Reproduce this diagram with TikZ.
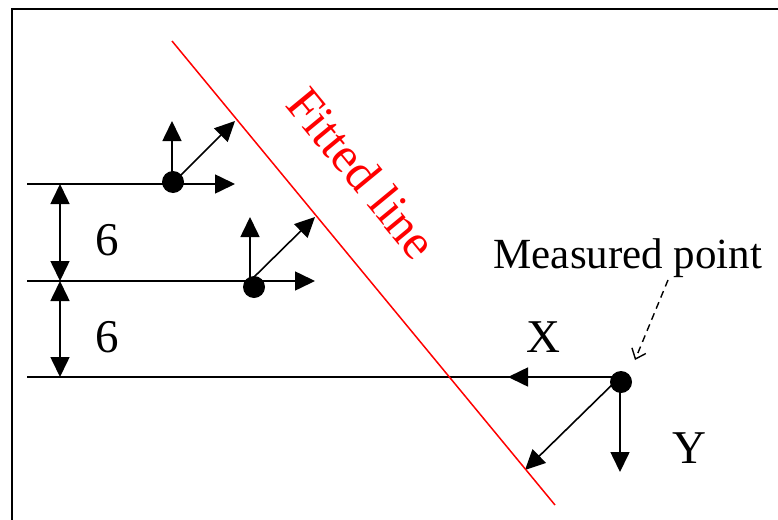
\documentclass[tikz,border=0pt]{standalone}
\usepackage{fontspec}
\setmainfont{Liberation Serif}
\usetikzlibrary{arrows.meta}

\begin{document}
\begin{tikzpicture}[
  x=1pt, y=-1pt,
  frame/.style = {draw=black, line width=2.3pt},
  base/.style = {draw=black, line width=1.6pt},
  axis/.style = {-{Triangle[length=20pt,width=19pt]}, line width=1.6pt},
  dim/.style = {{Triangle[length=20pt,width=19pt]}-{Triangle[length=20pt,width=19pt]}, line width=1.6pt},
  fit/.style = {draw=red, line width=1.5pt},
  hint/.style = {-{Straight Barb[length=9pt,width=15pt]}, dash pattern=on 7pt off 5pt, line width=1.4pt},
  dot/.style = {circle, fill=black, inner sep=0pt, minimum size=22pt},
  lbl/.style = {font=\fontsize{47}{56}\selectfont, inner sep=0pt, anchor=base},
]
  \useasboundingbox (0,0) rectangle (778,519);
  \draw[frame] (12,540) |- (800,9);

  \coordinate (l1) at (27,184);
  \coordinate (l2) at (27,281);
  \coordinate (l3) at (27,377);
  \coordinate (o1) at (172,184);
  \coordinate (o2) at (250,281);
  \coordinate (o3) at (620,377);
  \coordinate (d1) at (60,184);
  \coordinate (d2) at (60,281);
  \coordinate (d3) at (60,377);
  \coordinate (f1) at (172,41);
  \coordinate (f2) at (555,505);

  \node[dot] (p1) at (173,182) {};
  \node[dot] (p2) at (254,287) {};
  \node[dot] (p3) at (621,382) {};

  \coordinate (x1) at (235,184);
  \coordinate (y1) at (172,121);
  \coordinate (n1) at (235,121);
  \coordinate (x2) at (315,281);
  \coordinate (y2) at (250,217);
  \coordinate (n2) at (315,217);
  \coordinate (x3) at (508,377);
  \coordinate (y3) at (620,472);
  \coordinate (n3) at (525,470);

  \draw[base] (l1) -- (o1);
  \draw[base] (l2) -- (o2);
  \draw[base] (l3) -- (o3);

  \draw[axis] (o1) -- (x1);
  \draw[axis] (o1) -- (y1);
  \draw[axis] (o1) -- (n1);
  \draw[axis] (o2) -- (x2);
  \draw[axis] (o2) -- (y2);
  \draw[axis] (o2) -- (n2);
  \draw[axis] (o3) -- (x3);
  \draw[axis] (o3) -- (y3);
  \draw[axis] (o3) -- (n3);

  \draw[dim] (d1) -- (d2);
  \draw[dim] (d2) -- (d3);
  \node[lbl] (six1) at (107,255) {6};
  \node[lbl] (six2) at (107,352) {6};

  \draw[fit] (f1) -- (f2);
  \node[lbl, text=red, font=\fontsize{50}{58}\selectfont, rotate=-50.5] (fitlbl) at (349,184) {Fitted line};

  \node[lbl] (xlbl) at (543,352) {X};
  \node[lbl] (ylbl) at (689,463) {Y};
  \node[lbl, font=\fontsize{43}{50}\selectfont] (meas) at (628,268) {Measured point};
  \coordinate (mtail) at (668,280);
  \coordinate (mtip) at (635,360);
  \draw[hint] (mtail) -- (mtip);
\end{tikzpicture}
\end{document}
